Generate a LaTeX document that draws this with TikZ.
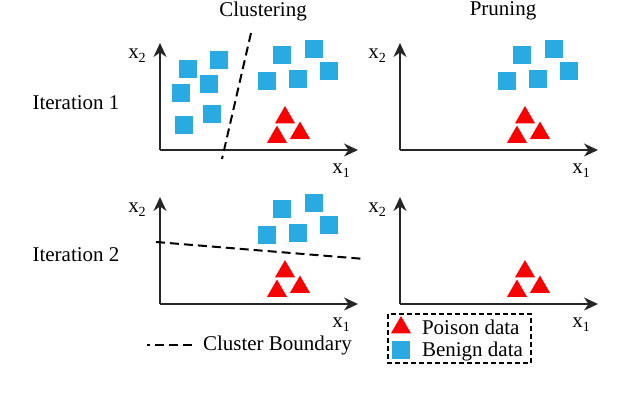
\documentclass[tikz,border=0pt]{standalone}
\usepackage{fontspec}
\setmainfont{Liberation Serif}
\usepackage{tikz}
\usetikzlibrary{arrows.meta, shapes.geometric, positioning}

\definecolor{benignblue}{RGB}{41,171,226}
\definecolor{poisonred}{RGB}{250,0,0}
\newcommand{\axlab}[1]{x\raisebox{-0.45ex}{\scriptsize #1}}

\begin{document}
\begin{tikzpicture}[x=0.5pt,y=-0.5pt,
    txt/.style={font=\fontsize{10.5}{12}\selectfont},
    axis/.style={line width=1.1pt, black!85, -{Stealth[length=7pt,width=6.5pt]}},
    boundary/.style={line width=1pt, dash pattern=on 4.5pt off 2.5pt},
    legbox/.style={line width=0.6pt, dash pattern=on 2.5pt off 1.5pt},
    benign/.style={rectangle, fill=benignblue, minimum size=9pt, inner sep=0pt},
    poison/.style={regular polygon, regular polygon sides=3, fill=poisonred, minimum size=11.5pt, inner sep=0pt}]

        \useasboundingbox (0,0) rectangle (622,398);

        % Titles
        \node[txt] (clustering) at (263,11) {Clustering};
        \node[txt] (pruning) at (503,11) {Pruning};
        \node[txt] (iter1) at (76,103) {Iteration 1};
        \node[txt] (iter2) at (76,255) {Iteration 2};

        % Axes, poison data and benign cluster of every panel
        \foreach \p/\dx/\dy/\ben in {tl/0/0/1, tr/240/0/1, bl/0/154/1, br/240/154/0} {
            \begin{scope}[shift={(\dx,\dy)}]
                \coordinate (\p-o) at (160,150);
                \coordinate (\p-y) at (160,43);
                \coordinate (\p-x) at (358,150);
                \draw[axis] (\p-o) -- (\p-y);
                \draw[axis] (\p-o) -- (\p-x);
                \node[txt] (\p-xlab) at (341,171) {\axlab{1}};
                \node[txt] (\p-ylab) at (137,56) {\axlab{2}};
                \foreach \x/\y [count=\i] in {285/117.5, 277/137, 300/133}
                    \node[poison] (\p-t\i) at (\x,\y) {};
                \ifnum\ben=1
                    \foreach \x/\y [count=\i] in {282/55, 314/49, 267/81, 298/79, 329/71}
                        \node[benign] (\p-b\i) at (\x,\y) {};
                \fi
            \end{scope}
        }

        % Second cluster, first iteration only
        \foreach \x/\y [count=\i] in {188/69, 219/60, 209/84, 181/93, 212/114, 184/125}
            \node[benign] (tl-c\i) at (\x,\y) {};

        % Cluster boundaries
        \coordinate (bnd1a) at (251,33);
        \coordinate (bnd1b) at (222,159);
        \draw[boundary] (bnd1a) -- (bnd1b);
        \coordinate (bnd2a) at (156,242);
        \coordinate (bnd2b) at (365,259);
        \draw[boundary] (bnd2a) -- (bnd2b);

        % Legend
        \coordinate (legl) at (147,345);
        \coordinate (legr) at (192,345);
        \draw[boundary, dash phase=3pt] (legl) -- (legr);
        \node[txt, anchor=west] (legbnd) at (196,345) {Cluster Boundary};

        \draw[legbox] (388,314) rectangle (531,363);
        \node[poison] (legpoison) at (401,327.5) {};
        \node[txt, anchor=west] (legpoisontxt) at (415,327) {Poison data};
        \node[benign] (legbenign) at (401,349.5) {};
        \node[txt, anchor=west] (legbenigntxt) at (415,351) {Benign data};
    \end{tikzpicture}
\end{document}
